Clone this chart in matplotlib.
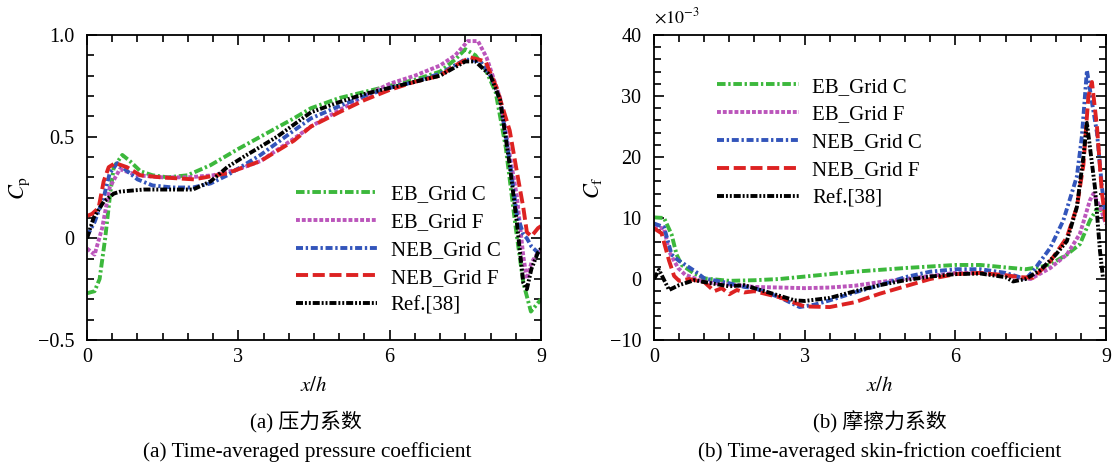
import matplotlib
matplotlib.use("Agg")
import matplotlib.pyplot as plt
from matplotlib.ticker import MultipleLocator, FixedLocator, FixedFormatter

plt.rcParams['font.family'] = ['Liberation Serif', 'Noto Sans CJK SC']
plt.rcParams['mathtext.fontset'] = 'stix'

# ---------------- data: pressure coefficient ----------------
cp_eb_c_x = [0, 0.15, 0.25, 0.36, 0.46, 0.53, 0.7, 0.85, 1.06, 1.3, 1.6, 1.99, 2.45, 3.0, 3.44, 4.1, 4.44, 5.0, 5.5, 6.0, 6.5, 7.0, 7.3, 7.5, 7.7, 7.9, 8.1, 8.3, 8.5, 8.65, 8.8, 8.9, 9.0]
cp_eb_c_y = [-0.27, -0.26, -0.2, 0.0, 0.22, 0.35, 0.41, 0.38, 0.33, 0.31, 0.30, 0.31, 0.36, 0.44, 0.50, 0.59, 0.64, 0.69, 0.72, 0.75, 0.78, 0.82, 0.88, 0.93, 0.9, 0.83, 0.72, 0.45, 0.05, -0.22, -0.36, -0.33, -0.3]

cp_eb_f_x = [0, 0.15, 0.3, 0.45, 0.65, 1.0, 1.5, 2.0, 2.5, 3.0, 3.44, 4.1, 4.44, 5.0, 5.5, 6.0, 6.5, 7.0, 7.3, 7.55, 7.75, 7.92, 8.19, 8.38, 8.52, 8.65, 8.72, 8.81, 8.94, 9.0]
cp_eb_f_y = [-0.05, -0.08, 0.05, 0.25, 0.34, 0.31, 0.30, 0.30, 0.31, 0.34, 0.38, 0.49, 0.55, 0.63, 0.70, 0.76, 0.80, 0.85, 0.90, 0.97, 0.97, 0.89, 0.69, 0.41, 0.21, -0.09, -0.2, -0.12, -0.07, -0.06]

cp_neb_c_x = [0, 0.15, 0.33, 0.45, 0.6, 0.8, 1.0, 1.3, 1.7, 2.1, 2.45, 2.78, 3.44, 4.1, 4.44, 5.0, 5.5, 6.0, 6.5, 7.0, 7.5, 7.8, 8.0, 8.19, 8.38, 8.52, 8.65, 8.72, 8.81, 8.94, 9.0]
cp_neb_c_y = [0.01, 0.08, 0.2, 0.32, 0.37, 0.33, 0.29, 0.26, 0.25, 0.25, 0.27, 0.31, 0.41, 0.53, 0.59, 0.65, 0.70, 0.74, 0.77, 0.81, 0.88, 0.87, 0.8, 0.68, 0.38, 0.12, 0.02, 0.0, -0.04, -0.07, -0.06]

cp_neb_f_x = [0, 0.1, 0.23, 0.33, 0.43, 0.56, 0.79, 1.06, 1.46, 2.12, 2.78, 3.44, 4.1, 4.44, 5.0, 5.5, 6.0, 6.5, 7.0, 7.3, 7.6, 7.9, 8.12, 8.38, 8.52, 8.65, 8.72, 8.81, 8.94, 9.0]
cp_neb_f_y = [0.11, 0.12, 0.15, 0.28, 0.35, 0.37, 0.35, 0.31, 0.30, 0.29, 0.32, 0.38, 0.48, 0.55, 0.62, 0.68, 0.73, 0.77, 0.80, 0.85, 0.89, 0.87, 0.74, 0.53, 0.33, 0.15, 0.03, 0.01, 0.05, 0.06]

cp_ref_x = [0, 0.13, 0.33, 0.53, 0.66, 1.13, 2.1, 2.45, 2.78, 3.1, 3.77, 4.44, 5.0, 5.5, 6.0, 6.5, 7.0, 7.5, 7.7, 8.0, 8.19, 8.38, 8.52, 8.65, 8.72, 8.81, 8.94, 9.0]
cp_ref_y = [0.0, 0.1, 0.18, 0.22, 0.23, 0.24, 0.24, 0.28, 0.35, 0.40, 0.50, 0.62, 0.67, 0.71, 0.74, 0.77, 0.80, 0.87, 0.87, 0.8, 0.68, 0.36, 0.08, -0.22, -0.25, -0.15, -0.07, -0.05]

# ---------------- data: skin-friction coefficient (x 1e-3) ----------------
cf_eb_c_x = [0, 0.2, 0.35, 0.45, 0.55, 0.8, 1.0, 1.5, 2.0, 2.5, 3.0, 4.0, 5.0, 6.0, 6.5, 7.0, 7.4, 7.7, 7.89, 8.22, 8.48, 8.68, 8.82, 9.0]
cf_eb_c_y = [10.1, 10.0, 7.3, 4.0, 2.3, 0.9, 0.1, -0.3, -0.2, 0.0, 0.4, 1.2, 1.8, 2.3, 2.3, 1.9, 1.6, 2.0, 2.4, 4.0, 5.7, 9.6, 11.5, 11.0]

cf_eb_f_x = [0, 0.2, 0.3, 0.48, 0.62, 1.0, 1.5, 2.0, 3.0, 3.5, 4.0, 4.5, 5.0, 5.5, 6.0, 6.5, 7.0, 7.3, 7.5, 7.89, 8.22, 8.48, 8.68, 8.75, 8.88, 9.0]
cf_eb_f_y = [8.5, 8.3, 4.5, 1.8, 0.7, -0.5, -0.9, -1.3, -1.5, -1.4, -1.1, -0.5, 0.0, 0.5, 1.0, 1.0, 0.6, 0.2, 0.0, 1.8, 4.0, 7.4, 12.9, 14.0, 11.8, 9.0]

cf_neb_c_x = [0, 0.2, 0.35, 0.48, 0.83, 1.0, 1.5, 1.8, 2.0, 2.5, 2.9, 3.2, 3.5, 4.0, 4.5, 5.0, 5.5, 6.0, 6.5, 7.0, 7.4, 7.55, 7.89, 8.15, 8.42, 8.52, 8.62, 8.72, 8.82, 8.92, 9.0]
cf_neb_c_y = [9.1, 8.5, 4.0, 3.1, 1.2, 0.1, -0.7, -1.3, -1.5, -3.0, -4.6, -4.2, -3.5, -2.2, -1.0, 0.3, 1.2, 1.6, 1.6, 1.0, 0.0, 1.3, 5.1, 9.6, 16.8, 23.4, 34.2, 29.0, 24.0, 15.0, 9.6]

cf_neb_f_x = [0, 0.15, 0.3, 0.4, 0.5, 0.7, 1.0, 1.2, 1.35, 1.5, 1.65, 1.8, 2.0, 2.5, 3.0, 3.5, 4.0, 4.5, 5.0, 5.5, 6.0, 6.5, 7.0, 7.3, 7.55, 7.89, 8.22, 8.42, 8.55, 8.65, 8.72, 8.82, 8.92, 9.0]
cf_neb_f_y = [8.3, 7.5, 3.0, 0.5, -0.3, 0.0, -0.5, -2.0, -1.5, -2.5, -1.8, -2.2, -2.0, -3.0, -4.5, -4.6, -3.8, -2.4, -1.2, 0.0, 0.8, 1.0, 0.6, 0.3, 0.2, 2.9, 6.8, 11.8, 18.7, 30.0, 32.3, 25.0, 14.0, 9.0]

cf_ref_x = [0, 0.1, 0.3, 0.5, 0.8, 1.0, 1.5, 1.8, 2.0, 2.4, 2.8, 3.0, 3.5, 4.0, 4.5, 5.0, 5.5, 6.0, 6.5, 7.0, 7.15, 7.4, 7.7, 8.0, 8.22, 8.42, 8.55, 8.62, 8.78, 8.88, 8.94]
cf_ref_y = [0.0, 1.5, -1.8, -1.0, -0.2, -0.5, -1.2, -1.0, -1.5, -2.5, -3.5, -3.6, -3.1, -2.0, -1.0, -0.2, 0.4, 0.8, 0.9, 0.3, -0.4, 0.0, 1.5, 4.0, 6.2, 11.8, 20.0, 25.6, 15.0, 4.6, 0.2]

labels = ['EB_Grid C', 'EB_Grid F', 'NEB_Grid C', 'NEB_Grid F', 'Ref.[38]']
colors = ['#3cb83c', '#bb55bb', '#3355bb', '#dd2222', '#000000']
styles = [(0, (2.2, 0.7, 0.6, 0.7)), (0, (1.0, 0.5)), (0, (1.8, 0.7, 0.6, 0.7)),
          (0, (3.1, 1.2)), (0, (1.8, 0.5, 0.5, 0.5, 0.5, 0.5))]

cp_x_ticks = [0, 3, 6, 9]
cp_y_ticks = [-0.5, 0, 0.5, 1.0]
cp_y_labels = ['\u22120.5', '0', '0.5', '1.0']
cf_y_ticks = [-10, 0, 10, 20, 30, 40]
cf_y_labels = ['\u221210', '0', '10', '20', '30', '40']

fig = plt.figure(figsize=(11.18, 4.66), dpi=100)
axL = fig.add_axes([87/1118, 1-340/466, 454/1118, 305/466])
axR = fig.add_axes([654/1118, 1-340/466, 452/1118, 305/466])

cp_data = [(cp_eb_c_x, cp_eb_c_y), (cp_eb_f_x, cp_eb_f_y), (cp_neb_c_x, cp_neb_c_y),
           (cp_neb_f_x, cp_neb_f_y), (cp_ref_x, cp_ref_y)]
cf_data = [(cf_eb_c_x, cf_eb_c_y), (cf_eb_f_x, cf_eb_f_y), (cf_neb_c_x, cf_neb_c_y),
           (cf_neb_f_x, cf_neb_f_y), (cf_ref_x, cf_ref_y)]

lw = 2.8
for ax, data in ((axL, cp_data), (axR, cf_data)):
    for (x, y), lab, c, ls in zip(data, labels, colors, styles):
        ax.plot(x, y, color=c, linestyle=ls, lw=lw, label=lab)

def style_axes(ax, yticks, ylabels, yminor):
    ax.set_xlim(0, 9)
    ax.xaxis.set_major_locator(FixedLocator(cp_x_ticks))
    ax.xaxis.set_minor_locator(MultipleLocator(0.5))
    ax.yaxis.set_major_locator(FixedLocator(yticks))
    ax.yaxis.set_major_formatter(FixedFormatter(ylabels))
    ax.yaxis.set_minor_locator(MultipleLocator(yminor))
    ax.tick_params(which='both', direction='in', top=True, right=True, labelsize=14.5, width=1.2)
    ax.tick_params(which='major', length=7)
    ax.tick_params(axis='y', which='major', pad=9)
    ax.tick_params(axis='x', which='major', pad=6)
    ax.tick_params(which='minor', length=5)
    for s in ax.spines.values():
        s.set_linewidth(1.3)
    ax.set_xlabel(r'$x/h$', fontsize=15, labelpad=7)

axL.set_ylim(-0.5, 1.0)
style_axes(axL, cp_y_ticks, cp_y_labels, 0.1)
axL.set_ylabel(r'$C_{\mathrm{p}}$', fontsize=16, labelpad=4)

axR.set_ylim(-10, 40)
style_axes(axR, cf_y_ticks, cf_y_labels, 2)
axR.set_ylabel(r'$C_{\mathrm{f}}$', fontsize=16, labelpad=4)
axR.text(0.0, 1.025, r'$\times10^{-3}$', transform=axR.transAxes, fontsize=13,
         ha='left', va='bottom')

leg_kw = dict(frameon=False, fontsize=15, handlelength=3.9, handletextpad=0.65,
              labelspacing=0.4, borderpad=0, borderaxespad=0, loc='upper left')
axL.legend(bbox_to_anchor=(0.46, 0.51), **leg_kw)
axR.legend(bbox_to_anchor=(0.14, 0.862), **leg_kw)

fig.text(306/1118, 1-422/466, '(a) 压力系数', ha='center', va='center', fontsize=15)
fig.text(307/1118, 1-452/466, '(a) Time-averaged pressure coefficient', ha='center', va='center', fontsize=15.3)
fig.text(880/1118, 1-422/466, '(b) 摩擦力系数', ha='center', va='center', fontsize=15)
fig.text(880/1118, 1-452/466, '(b) Time-averaged skin-friction coefficient', ha='center', va='center', fontsize=15.3)

fig.savefig('out.png', dpi=100)
